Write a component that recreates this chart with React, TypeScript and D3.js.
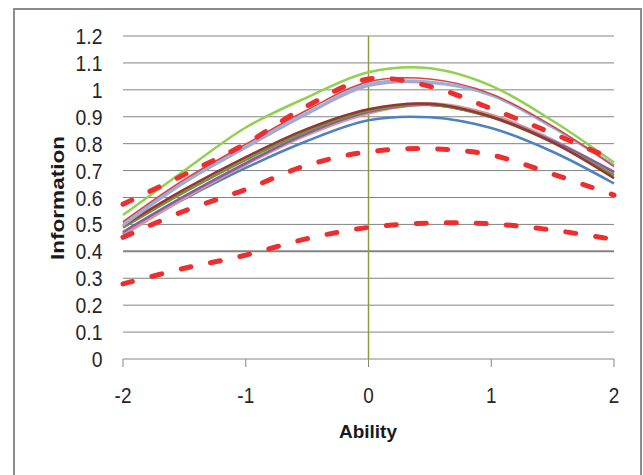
import React from "react";
import * as d3 from "d3";

const abilities = [-2, -1.5, -1, -0.5, 0, 0.5, 1, 1.5, 2];
const yTicks = [0, 0.1, 0.2, 0.3, 0.4, 0.5, 0.6, 0.7, 0.8, 0.9, 1, 1.1, 1.2];
const xTicks = [-2, -1, 0, 1, 2];

const greenInfo = [0.535, 0.7, 0.86, 0.972, 1.065, 1.08, 1.015, 0.885, 0.73];
const lavenderInfo = [0.495, 0.655, 0.785, 0.91, 1.015, 1.026, 0.98, 0.862, 0.72];
const lightBlueInfo = [0.505, 0.66, 0.79, 0.915, 1.022, 1.03, 0.98, 0.86, 0.718];
const redInfo = [0.51, 0.667, 0.798, 0.925, 1.03, 1.04, 0.985, 0.865, 0.715];
const blueInfo = [0.468, 0.595, 0.71, 0.81, 0.887, 0.898, 0.858, 0.77, 0.652];
const pinkInfo = [0.462, 0.6, 0.725, 0.835, 0.915, 0.947, 0.905, 0.812, 0.69];
const purpleInfo = [0.472, 0.605, 0.727, 0.838, 0.918, 0.944, 0.9, 0.81, 0.695];
const oliveInfo = [0.488, 0.62, 0.74, 0.847, 0.922, 0.945, 0.898, 0.805, 0.682];
const brownInfo = [0.495, 0.63, 0.75, 0.855, 0.928, 0.948, 0.9, 0.805, 0.672];
const dashedHigh = [0.575, 0.685, 0.8, 0.94, 1.04, 1.013, 0.93, 0.838, 0.74];
const dashedMid = [0.452, 0.55, 0.63, 0.72, 0.77, 0.781, 0.758, 0.687, 0.609];
const dashedLow = [0.279, 0.337, 0.386, 0.447, 0.489, 0.505, 0.502, 0.479, 0.444];

const solidSeries = [
  { values: blueInfo, color: "#4F81BD", width: 2.5 },
  { values: pinkInfo, color: "#D99694", width: 4 },
  { values: purpleInfo, color: "#7F5FA8", width: 2.5 },
  { values: oliveInfo, color: "#77933C", width: 2.5 },
  { values: brownInfo, color: "#943634", width: 2.5 },
  { values: lavenderInfo, color: "#B3A2C7", width: 2.5 },
  { values: lightBlueInfo, color: "#8DB4E2", width: 2.5 },
  { values: redInfo, color: "#E04040", width: 1.5 },
  { values: greenInfo, color: "#92D050", width: 2.5 },
];
const dashedSeries = [dashedHigh, dashedMid, dashedLow];

const W = 643;
const H = 475;
const FONT = "'Liberation Sans', Arial, sans-serif";

export default function App() {
  const x = d3.scaleLinear().domain([-2, 2]).range([123, 614]);
  const y = d3.scaleLinear().domain([0, 1.2]).range([359, 36]);
  const line = (vals: number[]) =>
    d3
      .line<number>()
      .x((_, i) => x(abilities[i]))
      .y((d) => y(d))
      .curve(d3.curveCatmullRom.alpha(0.5))(vals) || "";

  return (
    <svg
      width={W}
      height={H}
      style={{ position: "absolute", left: 0, top: 0, background: "#fff" }}
    >
      <rect x={0} y={0} width={W} height={H} fill="#fff" />
      <rect x={14} y={9} width={627} height={500} fill="none" stroke="#8C8C8C" strokeWidth={2} />
      {yTicks.map((t) => (
        <g key={t}>
          {t > 0 && (
            <line
              x1={x(-2)}
              x2={x(2)}
              y1={y(t)}
              y2={y(t)}
              stroke="#838383"
              strokeWidth={t === 0.4 ? 2 : 1}
            />
          )}
          <text
            transform={`translate(102.5,${y(t) + 8}) scale(0.88,1)`}
            textAnchor="end"
            fontFamily={FONT}
            fontSize={22}
            fill="#262626"
          >
            {String(t)}
          </text>
        </g>
      ))}
      <line x1={x(-2)} x2={x(2)} y1={y(0)} y2={y(0)} stroke="#868686" strokeWidth={1} />
      {xTicks.map((t) => (
        <g key={t}>
          <line x1={x(t)} x2={x(t)} y1={y(0)} y2={y(0) + 8} stroke="#868686" strokeWidth={1} />
          <text
            transform={`translate(${x(t)},403) scale(0.86,1)`}
            textAnchor="middle"
            fontFamily={FONT}
            fontSize={22}
            fill="#262626"
          >
            {t < 0 ? "-" + Math.abs(t) : String(t)}
          </text>
        </g>
      ))}
      <line x1={x(0)} x2={x(0)} y1={y(1.2)} y2={y(0)} stroke="#8A9F3A" strokeWidth={1.5} />
      {solidSeries.map((s, i) => (
        <path key={i} d={line(s.values)} fill="none" stroke={s.color} strokeWidth={s.width} />
      ))}
      {dashedSeries.map((vals, i) => (
        <path
          key={i}
          d={line(vals)}
          fill="none"
          stroke="#EE2E2E"
          strokeWidth={5}
          strokeDasharray="10 20"
          strokeLinecap="round"
        />
      ))}
      <text
        x={339}
        y={438}
        textLength={58}
        lengthAdjust="spacingAndGlyphs"
        fontFamily={FONT}
        fontSize={19}
        fontWeight="bold"
        fill="#1a1a1a"
      >
        Ability
      </text>
      <text
        transform="translate(63.5,260) rotate(-90)"
        textLength={124}
        lengthAdjust="spacingAndGlyphs"
        fontFamily={FONT}
        fontSize={19}
        fontWeight="bold"
        fill="#1a1a1a"
      >
        Information
      </text>
    </svg>
  );
}
